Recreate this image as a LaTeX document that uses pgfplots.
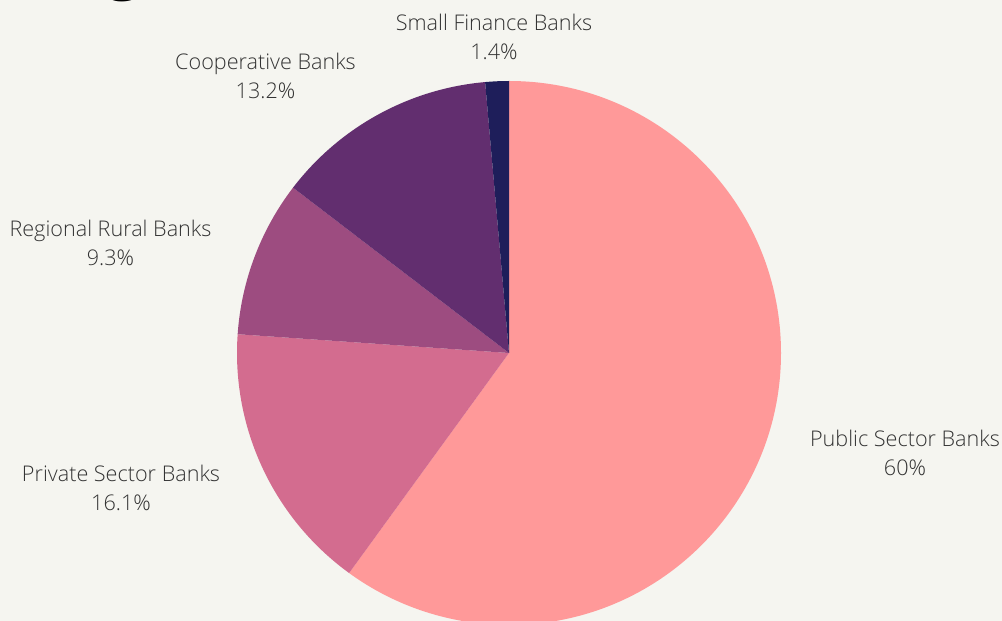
\documentclass[border=0pt]{standalone}
\usepackage{pgfplots}
\pgfplotsset{compat=1.18}
\usepackage{pgfplotstable}
\usepackage{fontspec}
\setmainfont{Open Sans Light}
\newfontfamily\titlefont{Open Sans}
\definecolor{bg}{HTML}{F5F5F0}
\definecolor{pubc}{HTML}{FF9999}
\definecolor{privc}{HTML}{D36C8F}
\definecolor{rrbc}{HTML}{9D4C80}
\definecolor{coopc}{HTML}{622E6F}
\definecolor{sfbc}{HTML}{1E1E5A}
\definecolor{txt}{HTML}{333333}

\pgfplotstableread[col sep=comma]{
name,value,color,lx,ly
Public Sector Banks,60,pubc,905,453
Private Sector Banks,16.1,privc,121,488
Regional Rural Banks,9.3,rrbc,110.5,242.5
Cooperative Banks,13.2,coopc,265.5,75.5
Small Finance Banks,1.4,sfbc,494,36.5
}\piedata

\begin{document}
\begin{tikzpicture}
\begin{axis}[
  scale only axis, width=501pt, height=310.5pt,
  xmin=0, xmax=1002, ymin=0, ymax=621,
  hide axis, clip=false,
]
\pgfplotsextra{
  \fill[bg] (axis cs:0,0) rectangle (axis cs:1002,621);
  \node[anchor=base, font=\titlefont\bfseries\fontsize{30}{30}\selectfont, text=black] at (axis cs:124,633) {g};
  \xdef\startang{90}
  \pgfplotstablegetrowsof{\piedata}
  \pgfmathtruncatemacro\nrows{\pgfplotsretval-1}
  \foreach \i in {0,...,\nrows}{
    \pgfplotstablegetelem{\i}{value}\of\piedata \let\sliceval\pgfplotsretval
    \pgfplotstablegetelem{\i}{color}\of\piedata \let\slicecol\pgfplotsretval
    \pgfplotstablegetelem{\i}{name}\of\piedata \let\slicename\pgfplotsretval
    \pgfplotstablegetelem{\i}{lx}\of\piedata \let\labx\pgfplotsretval
    \pgfplotstablegetelem{\i}{ly}\of\piedata \let\laby\pgfplotsretval
    \pgfmathsetmacro\endang{\startang-3.6*\sliceval}
    \fill[fill=\slicecol] (axis cs:509,268) -- ++(\startang:136pt)
       arc[start angle=\startang, end angle=\endang, radius=136pt] -- cycle;
    \xdef\startang{\endang}
    \pgfmathsetmacro\labyy{621-\laby}
    \node[align=center, text=txt, font=\fontsize{10.8}{14.5}\selectfont]
       at (axis cs:\labx,\labyy) {\slicename\\\sliceval\%};
  }
}
\end{axis}
\pgfresetboundingbox
\useasboundingbox (0,0) rectangle (501pt,310.5pt);
\end{tikzpicture}
\end{document}
